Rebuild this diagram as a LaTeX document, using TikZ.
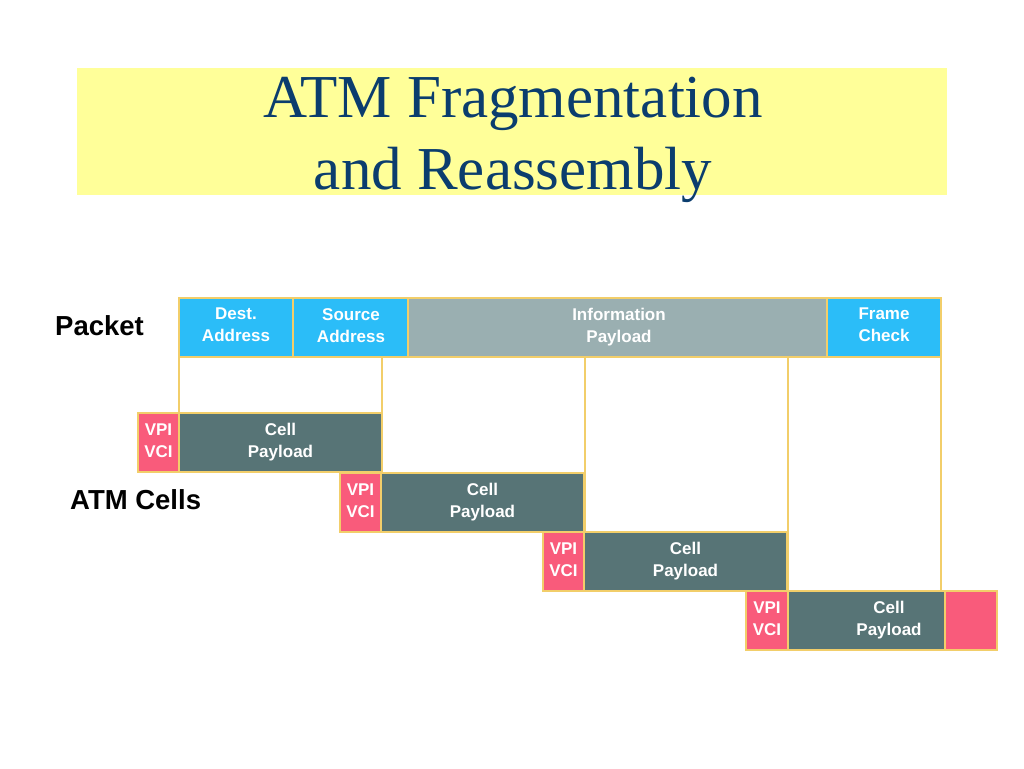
\documentclass[tikz,border=0pt]{standalone}
\usepackage{fontspec}
\setmainfont{Liberation Serif}
\setsansfont{Liberation Sans}
\definecolor{titlebg}{HTML}{FFFF99}
\definecolor{titlefg}{HTML}{0B3D6E}
\definecolor{fieldblue}{HTML}{2BBDF8}
\definecolor{infogray}{HTML}{9AAFB1}
\definecolor{payload}{HTML}{577476}
\definecolor{vpipink}{HTML}{F95B7B}
\definecolor{edge}{HTML}{F2CE6A}
\begin{document}
\begin{tikzpicture}[x=1pt,y=-1pt,
  fld/.style={draw=edge,line width=1.5pt},
  ftext/.style={font=\sffamily\bfseries\fontsize{17}{22}\selectfont,text=white,align=center,anchor=north,inner sep=0pt},
  biglabel/.style={font=\sffamily\bfseries\fontsize{27.5}{30}\selectfont,anchor=west,inner sep=0pt},
  guide/.style={draw=edge,line width=1.2pt}]
\useasboundingbox (0,0) rectangle (1024,768);
% title
\fill[titlebg] (77,68) rectangle (947,195);
\node[font=\fontsize{61}{72}\selectfont,text=titlefg,align=center,inner sep=0pt] (title) at (513,140) {ATM Fragmentation\\and Reassembly};
% packet
\node[biglabel] (packetlbl) at (55,326) {Packet};
\filldraw[fld,fill=fieldblue] (179,298) rectangle (293,357);
\filldraw[fld,fill=fieldblue] (293,298) rectangle (408,357);
\filldraw[fld,fill=infogray] (408,298) rectangle (827,357);
\filldraw[fld,fill=fieldblue] (827,298) rectangle (941,357);
\node[ftext] (dest) at (236,308) {Dest.\\Address};
\node[ftext] (src) at (351,308) {Source\\Address};
\node[ftext] (info) at (619,308) {Information\\Payload};
\node[ftext] (fc) at (884,308) {Frame\\Check};
% guides
\draw[guide] (179,357) -- (179,413);
\draw[guide] (382,357) -- (382,473);
\draw[guide] (585,357) -- (585,532);
\draw[guide] (788,357) -- (788,591);
\draw[guide] (941,357) -- (941,591);
% cells
\node[biglabel] (cellslbl) at (70,500) {ATM Cells};
\foreach \i/\x/\y/\w in {1/138/413/203, 2/340/473/203, 3/543/532/203} {
  \filldraw[fld,fill=vpipink] (\x,\y) rectangle (\x+41,\y+59);
  \filldraw[fld,fill=payload] (\x+41,\y) rectangle (\x+41+\w,\y+59);
  \node[ftext] (vpi\i) at (\x+20.5,\y+11) {VPI\\VCI};
  \node[ftext] (cell\i) at (\x+41+\w/2,\y+10) {Cell\\Payload};
}
\filldraw[fld,fill=vpipink] (746,591) rectangle (788,650);
\filldraw[fld,fill=payload] (788,591) rectangle (945,650);
\filldraw[fld,fill=vpipink] (945,591) rectangle (997,650);
\node[ftext] (vpi4) at (767,602) {VPI\\VCI};
\node[ftext] (cell4) at (889,601) {Cell\\Payload};
\end{tikzpicture}
\end{document}
